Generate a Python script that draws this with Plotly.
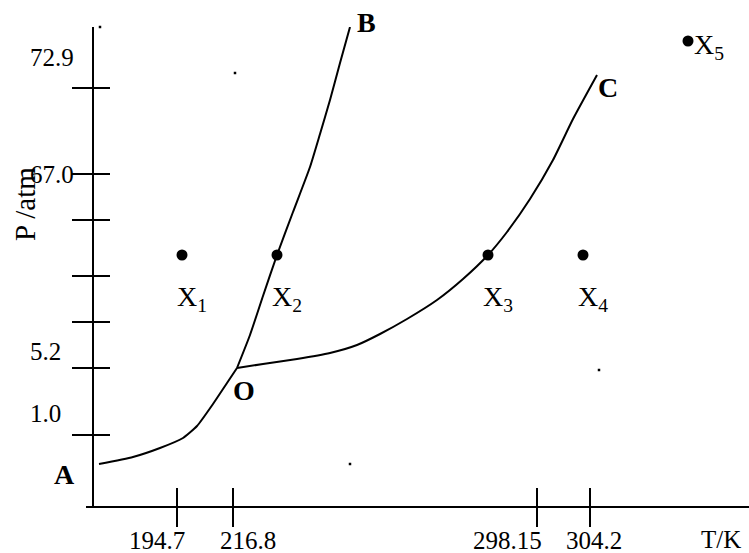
import plotly.graph_objects as go

# Schematic phase diagram of CO2 (not to scale): coordinates in diagram units
# T runs along the horizontal axis, P along the vertical axis.
AO_T = [6, 40, 67, 90, 104, 120, 134, 144]
AO_P = [42, 49, 58, 68, 80, 102, 123, 138]
OB_T = [144, 157, 170, 184, 200, 217, 227, 237, 247, 257]
OB_P = [138, 171, 210, 251, 294, 339, 372, 406, 443, 479]
OC_T = [144, 170, 204, 237, 264, 287, 314, 344, 370, 395, 414, 437, 460, 480, 504]
OC_P = [138, 142, 147, 153, 161, 172, 187, 206, 227, 251, 274, 307, 346, 387, 431]

PT_NAMES = ["X<sub>1</sub>", "X<sub>2</sub>", "X<sub>3</sub>", "X<sub>4</sub>", "X<sub>5</sub>"]
PT_T = [89, 184, 395, 490, 595]
PT_P = [251, 251, 251, 251, 465]

T_TICKS = [84, 140, 444, 497]
T_TICK_LABELS = ["194.7", "216.8", "298.15", "304.2"]
P_TICKS = [418, 332, 286, 230, 184, 138, 71]
P_LABELED = [418, 332, 138, 71]
P_TICK_LABELS = ["72.9", "67.0", "5.2", "1.0"]

SPECK_T = [7, 142, 257, 506]
SPECK_P = [479, 433, 42, 136]

# ---- styling ----
FONT = "Liberation Serif"
T_LABEL_DX = [-20, 15, -30, 4]
P_LABEL_DY = [31, 0, 17, 22]
X_RANGE = [-7, 656]
Y_RANGE = [0, 479]
YPOS = 7 / 663

fig = go.Figure()
for t, p in [(AO_T, AO_P), (OB_T, OB_P), (OC_T, OC_P)]:
    fig.add_trace(go.Scatter(x=t, y=p, mode="lines",
                             line=dict(color="black", width=2, shape="spline", smoothing=0.5),
                             hoverinfo="skip", cliponaxis=False))
fig.add_trace(go.Scatter(x=PT_T, y=PT_P, mode="markers",
                         marker=dict(color="black", size=11), cliponaxis=False))
fig.add_trace(go.Scatter(x=SPECK_T, y=SPECK_P, mode="markers",
                         marker=dict(color="black", size=2.5, symbol="square"), cliponaxis=False))
# carrier trace for the overlay axes (inner half of the crossing ticks)
fig.add_trace(go.Scatter(x=[None], y=[None], xaxis="x2", yaxis="y2", mode="markers"))

axis_common = dict(showgrid=False, zeroline=False, showticklabels=False,
                   tickcolor="black", tickwidth=2, fixedrange=True)
fig.update_layout(
    width=749, height=553,
    margin=dict(l=86, r=0, t=27, b=47, pad=0, autoexpand=False),
    plot_bgcolor="white", paper_bgcolor="white", showlegend=False,
    xaxis=dict(range=X_RANGE, showline=True, linecolor="black", linewidth=2,
               ticks="outside", ticklen=19, tickvals=T_TICKS, **axis_common),
    xaxis2=dict(range=X_RANGE, overlaying="x", anchor="y", side="bottom", showline=False,
                ticks="inside", ticklen=18, tickvals=T_TICKS, **axis_common),
    yaxis=dict(range=Y_RANGE, anchor="free", position=YPOS, showline=True, linecolor="black",
               linewidth=2, ticks="outside", ticklen=20, tickvals=P_TICKS, **axis_common),
    yaxis2=dict(range=Y_RANGE, overlaying="y", anchor="free", position=YPOS, side="left",
                showline=False, ticks="inside", ticklen=16, tickvals=P_TICKS, **axis_common),
)

ann = []
for v, txt, dx in zip(T_TICKS, T_TICK_LABELS, T_LABEL_DX):
    ann.append(dict(x=v, y=0, xref="x", yref="y", text=txt, showarrow=False,
                    xshift=dx, yshift=-34, font=dict(family=FONT, size=25, color="black")))
ann.append(dict(x=1, y=0, xref="paper", yref="y", text="T/K", showarrow=False,
                xanchor="right", xshift=-6, yshift=-33,
                font=dict(family=FONT, size=25, color="black")))
for v, txt, dy in zip(P_LABELED, P_TICK_LABELS, P_LABEL_DY):
    ann.append(dict(x=0, y=v, xref="paper", yref="y", text=txt, showarrow=False,
                    xanchor="left", xshift=-58, yshift=dy,
                    font=dict(family=FONT, size=25, color="black")))
ann.append(dict(x=0, y=302, xref="paper", yref="y", text="P /atm", showarrow=False,
                textangle=-90, xanchor="center", yanchor="middle", xshift=-61,
                font=dict(family=FONT, size=29, color="black")))
for i, (name, t, p) in enumerate(zip(PT_NAMES, PT_T, PT_P)):
    if i < 4:
        ann.append(dict(x=t, y=p, xref="x", yref="y", text=name, showarrow=False,
                        xanchor="left", yanchor="top", xshift=-7, yshift=-24,
                        font=dict(family=FONT, size=28, color="black")))
    else:
        ann.append(dict(x=t, y=p, xref="x", yref="y", text=name, showarrow=False,
                        xanchor="left", yanchor="middle", xshift=4, yshift=-5,
                        font=dict(family=FONT, size=28, color="black")))
bold = dict(family=FONT, size=28, color="black", weight="bold")
ann.append(dict(x=AO_T[0], y=AO_P[0], xref="x", yref="y", text="A", showarrow=False,
                xshift=-35, yshift=-10, font=bold))
ann.append(dict(x=AO_T[-1], y=AO_P[-1], xref="x", yref="y", text="O", showarrow=False,
                xshift=7, yshift=-22, font=bold))
ann.append(dict(x=OB_T[-1], y=OB_P[-1], xref="x", yref="y", text="B", showarrow=False,
                xshift=16, yshift=5, font=bold))
ann.append(dict(x=OC_T[-1], y=OC_P[-1], xref="x", yref="y", text="C", showarrow=False,
                xshift=11, yshift=-12, font=bold))
fig.update_layout(annotations=ann)

fig.write_html("out.html", config={"displayModeBar": False},
               post_script="document.body.style.margin='0';document.body.style.padding='0';")
